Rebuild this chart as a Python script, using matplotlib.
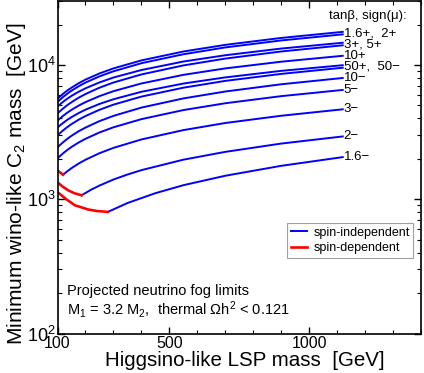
import math
import matplotlib
matplotlib.use("Agg")
import matplotlib.pyplot as plt
from matplotlib.ticker import FixedLocator, FuncFormatter, MultipleLocator
from matplotlib.lines import Line2D

plt.rcParams['font.family'] = ['Liberation Sans', 'DejaVu Sans']
plt.rcParams['mathtext.fontset'] = 'custom'
plt.rcParams['mathtext.rm'] = 'Liberation Sans'
plt.rcParams['mathtext.it'] = 'Liberation Sans:italic'

# Higgsino-like LSP mass grid [GeV]
x_grid = [100, 110, 120, 135, 150, 175, 200, 250, 300, 400, 550, 700, 900, 1120]

# spin-independent limits (blue), minimum wino-like C2 mass [GeV]
si_p16 = [5600, 5860, 6110, 6457, 6780, 7305, 7790, 8655, 9440, 10830, 12610, 14140, 15920, 17670]
si_p2 = [5300, 5545, 5780, 6120, 6440, 6934, 7400, 8233, 8980, 10320, 12030, 13530, 15250, 16930]
si_p3 = [4900, 5116, 5320, 5613, 5890, 6313, 6710, 7421, 8070, 9180, 10620, 11830, 13270, 14660]
si_p5 = [4350, 4551, 4745, 5027, 5285, 5701, 6080, 6779, 7410, 8510, 9935, 11170, 12620, 14030]
si_p10 = [3850, 4019, 4185, 4417, 4635, 4979, 5295, 5867, 6385, 7290, 8450, 9440, 10590, 11720]
si_p50 = [3420, 3567, 3705, 3906, 4090, 4381, 4650, 5131, 5560, 6320, 7280, 8090, 9050, 9970]
si_m50 = [2985, 3126, 3260, 3450, 3630, 3908, 4170, 4640, 5070, 5820, 6780, 7620, 8590, 9550]
si_m10 = [2430, 2549, 2660, 2820, 2970, 3206, 3420, 3821, 4180, 4820, 5640, 6350, 7190, 8010]
si_m5 = [2015, 2109, 2200, 2330, 2453, 2644, 2820, 3146, 3437, 3953, 4618, 5192, 5865, 6524]

x_m3_si = [120, 135, 150, 175, 200, 250, 300, 400, 550, 700, 900, 1120]
si_m3 = [1525, 1617, 1705, 1842, 1970, 2203, 2415, 2790, 3275, 3700, 4190, 4680]
x_m3_sd = [100, 110, 120]
sd_m3 = [1640, 1580, 1525]

x_m2_si = [186, 220, 250, 300, 350, 400, 550, 700, 900, 1120]
si_m2 = [1071, 1178, 1265, 1403, 1528, 1648, 1972, 2255, 2600, 2938]
x_m2_sd = [100, 120, 138, 160, 186]
sd_m2 = [1336, 1235, 1167, 1110, 1071]

x_m16_si = [280, 350, 450, 550, 700, 900, 1120]
si_m16 = [805, 937, 1110, 1273, 1497, 1775, 2061]
x_m16_sd = [100, 130, 162, 210, 240, 280]
sd_m16 = [1133, 1005, 902, 839, 818, 805]

si_full = [si_p16, si_p2, si_p3, si_p5, si_p10, si_p50, si_m50, si_m10, si_m5]
si_part = [(x_m3_si, si_m3), (x_m2_si, si_m2), (x_m16_si, si_m16)]
sd_part = [(x_m3_sd, sd_m3), (x_m2_sd, sd_m2), (x_m16_sd, sd_m16)]

curve_labels = ["1.6+,  2+", "3+, 5+", "10+", "50+,  50\u2212", "10\u2212",
                "5\u2212", "3\u2212", "2\u2212", "1.6\u2212"]
label_y = [17300, 14330, 11720, 9750, 8010, 6524, 4680, 2938, 2061]

BLUE = '#0000ff'
RED = '#ff0000'

fig = plt.figure(figsize=(4.24, 3.73), dpi=100)
ax = fig.add_axes([57.5 / 424, 39.5 / 373, 363.5 / 424, 332.5 / 373])

for ys in si_full:
    ax.plot(x_grid, ys, color=BLUE, lw=1.4)
for xs, ys in si_part:
    ax.plot(xs, ys, color=BLUE, lw=1.4)
for xs, ys in sd_part:
    ax.plot(xs, ys, color=RED, lw=1.9)

for t, y in zip(curve_labels, label_y):
    ax.text(1123, y, t, fontsize=9.5, va='center', ha='left')

ax.text(1350, 23300, "tan\u03b2, sign(\u03bc):", fontsize=9.5, ha='right', va='center')

ax.set_yscale('log')
ax.set_xlim(100, 1400)
ax.set_ylim(100, 30000)

ax.xaxis.set_major_locator(FixedLocator([100, 500, 1000]))
ax.xaxis.set_minor_locator(MultipleLocator(100))
ax.yaxis.set_major_locator(FixedLocator([100, 1000, 10000]))
ax.yaxis.set_major_formatter(FuncFormatter(
    lambda v, p: r'$\mathregular{10^{%d}}$' % round(math.log10(v))))
ax.tick_params(which='both', direction='in', top=True, right=True)
ax.tick_params(which='major', length=5, width=1, labelsize=11.5, pad=2)
ax.tick_params(which='minor', length=3, width=0.8)
ax.tick_params(axis='y', which='major', labelsize=13, pad=1)
for s in ax.spines.values():
    s.set_linewidth(1.2)

ax.set_xlabel("Higgsino-like LSP mass  [GeV]", fontsize=14.8)
ax.xaxis.set_label_coords((245 - 57.5) / 363.5, -0.053)
ax.set_ylabel(r"Minimum wino-like C$_\mathregular{2}$ mass  [GeV]", fontsize=15)
ax.yaxis.set_label_coords(-0.08, (333.5 - 183.5) / 332.5)

ax.text(135, 192, "Projected neutrino fog limits", fontsize=10.5, va='baseline')
ax.text(135, 139, r"M$_\mathregular{1}$ = 3.2 M$_\mathregular{2}$,  thermal $\mathregular{\Omega h^2}$ < 0.121",
        fontsize=10.5, va='baseline')

handles = [Line2D([], [], color=BLUE, lw=1.4), Line2D([], [], color=RED, lw=1.9)]
leg = ax.legend(handles, ["spin-independent", "spin-dependent"], loc='upper left',
                bbox_to_anchor=((287 - 57.5) / 363.5, (333.5 - 223) / 332.5),
                fontsize=9, frameon=True, fancybox=False, handlelength=1.3,
                handletextpad=0.5, borderpad=0.3, labelspacing=0.25, borderaxespad=0)
leg.get_frame().set_edgecolor('#888888')
leg.get_frame().set_linewidth(0.8)

fig.savefig("out.png", dpi=100)
